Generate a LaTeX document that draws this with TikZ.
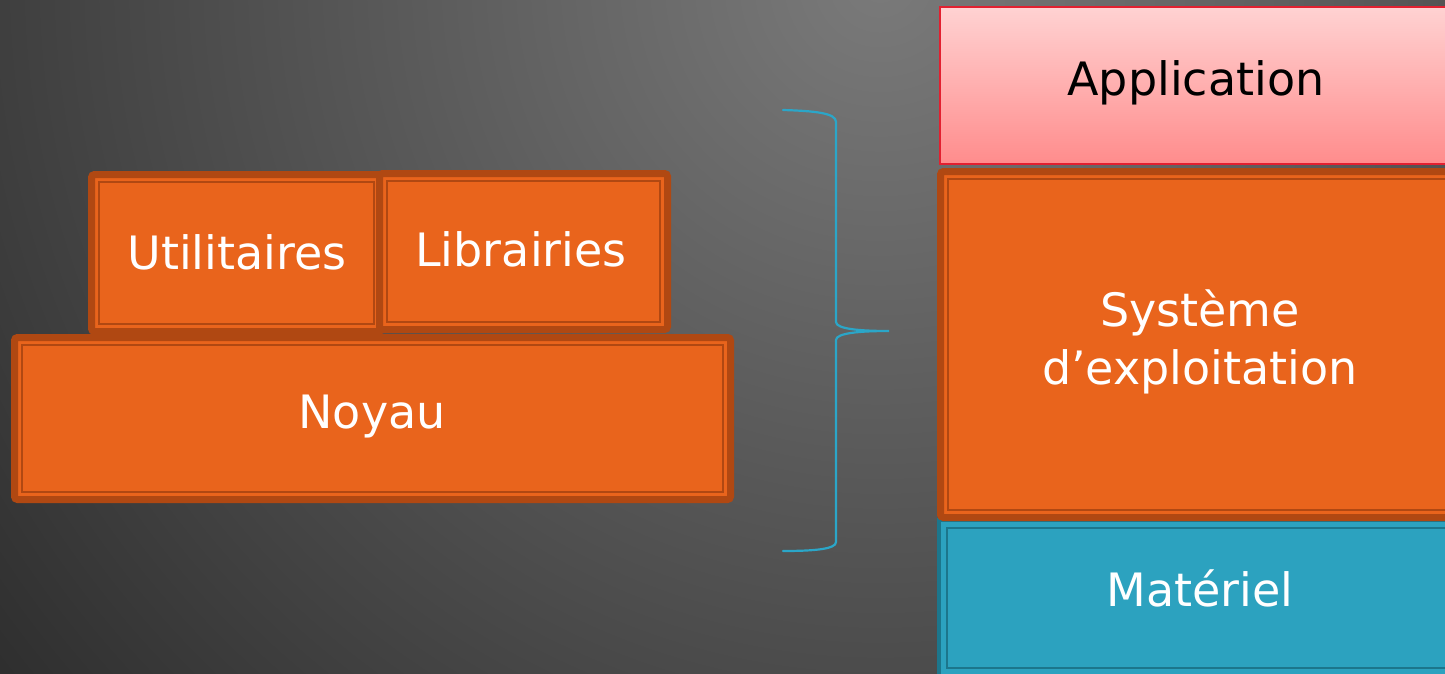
\documentclass[tikz,border=0pt]{standalone}
\usepackage{fontspec}
\setmainfont{DejaVu Sans}
\usetikzlibrary{calc}
\definecolor{orfill}{RGB}{233,100,28}
\definecolor{ordark}{RGB}{176,72,18}
\definecolor{tealfill}{RGB}{44,162,191}
\definecolor{tealdark}{RGB}{28,118,140}
\definecolor{appred}{RGB}{226,32,48}
\definecolor{bracecol}{RGB}{43,166,200}
\definecolor{bglight}{RGB}{122,122,122}
\definecolor{bgdark}{RGB}{38,38,38}
\tikzset{
  txt/.style={font=\fontsize{46}{58}\selectfont, align=center, inner sep=0pt},
  orbox/.style={fill=orfill, draw=ordark, line width=7pt, rounded corners=3pt, inner sep=0pt, outer sep=0pt},
  tealbox/.style={fill=tealfill, draw=tealdark, line width=4pt, inner sep=0pt, outer sep=0pt},
  appbox/.style={top color={rgb,255:red,255;green,210;blue,210}, bottom color={rgb,255:red,255;green,140;blue,140}, draw=appred, line width=2pt, inner sep=0pt, outer sep=0pt},
  orinner/.style={draw=ordark, line width=2pt},
  tealinner/.style={draw=tealdark, line width=1.6pt},
  bracestyle/.style={draw=bracecol, line width=2.2pt, line cap=round}
}
\newcommand{\innerframe}[3]{%
  \draw[#2] ([xshift=#3pt,yshift=-#3pt]#1.north west) rectangle ([xshift=-#3pt,yshift=#3pt]#1.south east);}
\begin{document}
\begin{tikzpicture}[x=1pt,y=-1pt]
\useasboundingbox (0,0) rectangle (1445,674);
\begin{scope}
\clip (0,0) rectangle (1445,674);
\shade[inner color=bglight, outer color=bgdark] (880,-20) circle (1250);

% Materiel
\node[tealbox, minimum width=520pt, minimum height=156pt] (mat) at (1199,598) {};
\innerframe{mat}{tealinner}{8}
\node[txt, text=white] (mattxt) at (1200,588) {Matériel};
% Application
\node[appbox, minimum width=506pt, minimum height=157pt] (app) at (1193,85.5) {};
\node[txt, text=black] (apptxt) at (1196,83) {Application};
% Systeme
\node[orbox, minimum width=517pt, minimum height=346pt] (sys) at (1199,344.5) {};
\innerframe{sys}{orinner}{7.5}
\node[txt, text=white] (systxt) at (1200,342) {Système\\d’exploitation};
\end{scope}

% Left stack
\node[orbox, minimum width=716pt, minimum height=162pt] (noy) at (372.5,418.5) {};
\innerframe{noy}{orinner}{7.5}
\node[txt, text=white] (noytxt) at (372,417) {Noyau};

\node[orbox, minimum width=290pt, minimum height=157pt] (util) at (236.5,253) {};
\innerframe{util}{orinner}{7.5}
\node[txt, text=white] (utiltxt) at (237,252) {Utilitaires};

\node[orbox, minimum width=288pt, minimum height=156pt] (lib) at (523.5,251.5) {};
\innerframe{lib}{orinner}{7.5}
\node[txt, text=white] (libtxt) at (521,249) {Librairies};

% Brace
\coordinate (btop) at (783,110);
\coordinate (btip) at (889,331);
\coordinate (bbot) at (783,551);
\draw[bracestyle] (btop) .. controls (815,111) and (836,113) .. (836,122)
  -- (836,322) .. controls (836,329) and (860,331) .. (btip)
  .. controls (860,331) and (836,333) .. (836,340)
  -- (836,542) .. controls (836,549) and (815,551) .. (bbot);
\end{tikzpicture}
\end{document}
